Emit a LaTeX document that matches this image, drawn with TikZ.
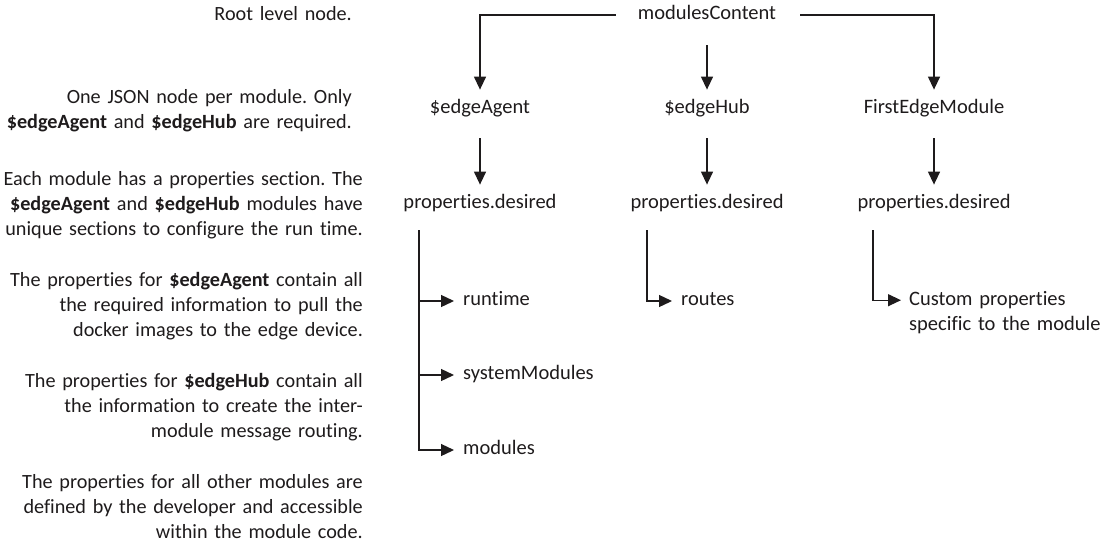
\documentclass[tikz,border=0pt]{standalone}
\usepackage{fontspec}
\setmainfont{Carlito}[Ligatures=NoCommon]
\usetikzlibrary{arrows.meta}
\definecolor{ink}{HTML}{1E1B1C}
\frenchspacing
\begin{document}
\begin{tikzpicture}[x=1pt,y=-1pt,
  font=\fontsize{20.5}{25}\selectfont, color=ink,
  lbl/.style={inner sep=0pt, text height=14.6pt, text depth=5pt},
  leaf/.style={lbl, anchor=west, inner xsep=9pt},
  note/.style={anchor=base east, inner sep=0pt, text width=380pt, align=right,
    font=\fontsize{20.2}{25}\selectfont},
  link/.style={line width=1.3pt},
  arr/.style={link, -{Triangle[length=13pt,width=12pt]}},
]
\useasboundingbox (0,0) rectangle (1102,547);

% notes
\node[note] (n1) at (352,20) {Root level node.};
\node[note] (n2) at (352,103) {One JSON node per module. Only\hspace*{9pt}\\\textbf{\$edgeAgent} and \textbf{\$edgeHub} are required.};
\node[note] (n3) at (363,185) {Each module has a properties section. The\\\textbf{\$edgeAgent} and \textbf{\$edgeHub} modules have\\unique sections to configure the run time.};
\node[note] (n4) at (363,286) {The properties for \textbf{\$edgeAgent} contain all\\the required information to pull the\\docker images to the edge device.};
\node[note] (n5) at (363,387) {The properties for \textbf{\$edgeHub} contain all\\the information to create the inter-\\module message routing.};
\node[note] (n6) at (363,488) {The properties for all other modules are\\defined by the developer and accessible\\within the module code.};

% tree
\node[lbl] (mc) at (707,15) {modulesContent};
\node[lbl] (ea) at (480,109) {\$edgeAgent};
\node[lbl] (eh) at (707,109) {\$edgeHub};
\node[lbl] (fm) at (934,109) {FirstEdgeModule};
\node[lbl] (pa) at (480,204) {properties.desired};
\node[lbl] (ph) at (707,204) {properties.desired};
\node[lbl] (pf) at (934,204) {properties.desired};

\node[leaf] (rt) at (454,301) {runtime};
\node[leaf] (sm) at (454,375) {systemModules};
\node[leaf] (mo) at (454,450) {modules};
\node[leaf] (rs) at (672,301) {routes};
\node[anchor=base west, inner xsep=8pt, inner ysep=0pt, text width=220pt, align=left] (cp) at (901,305)
  {Custom properties\\specific to the module};

\draw[arr, shorten <=22pt, shorten >=9.4pt] (mc.west) -| (ea.north);
\draw[arr, shorten <=24pt, shorten >=9.4pt] (mc.east) -| (fm.north);
\draw[arr, shorten <=20pt, shorten >=9.4pt] (mc.south) -- (eh.north);

\draw[arr, shorten <=19pt, shorten >=9.4pt] (ea.south) -- (pa.north);
\draw[arr, shorten <=19pt, shorten >=9.4pt] (eh.south) -- (ph.north);
\draw[arr, shorten <=19pt, shorten >=9.4pt] (fm.south) -- (pf.north);

\coordinate (ta) at (419,230);
\coordinate (th) at (647,230);
\coordinate (tf) at (873,230);

\draw[arr] (ta) |- (mo.west);
\draw[arr] (ta |- rt.west) -- (rt.west);
\draw[arr] (ta |- sm.west) -- (sm.west);
\draw[arr] (th) |- (rs.west);
\draw[arr] (tf) |- ([yshift=4.8pt]cp.base west);
\end{tikzpicture}
\end{document}
